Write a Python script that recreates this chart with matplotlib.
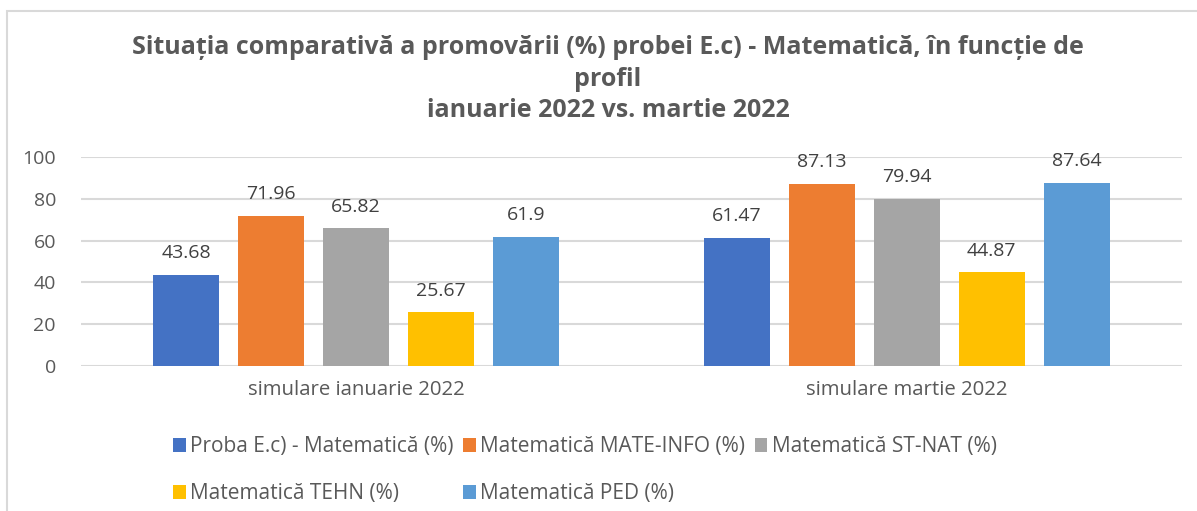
import matplotlib.pyplot as plt
import numpy as np
from matplotlib.patches import Rectangle

plt.rcParams['font.family'] = ['Open Sans', 'DejaVu Sans']

categorii = ['simulare ianuarie 2022', 'simulare martie 2022']
serii = ['Proba E.c) - Matematică (%)', 'Matematică MATE-INFO (%)', 'Matematică ST-NAT (%)',
         'Matematică TEHN (%)', 'Matematică PED (%)']
proba = [43.68, 61.47]
mate_info = [71.96, 87.13]
st_nat = [65.82, 79.94]
tehn = [25.67, 44.87]
ped = [61.9, 87.64]
culori = ['#4472C4', '#ED7D31', '#A5A5A5', '#FFC000', '#5B9BD5']

fig = plt.figure(figsize=(11.97, 5.11), dpi=100)
ax = fig.add_axes([81/1197, 1-366/511, 1101/1197, 209/511])

x = np.arange(len(categorii))
w = 66/550.5
pas = 85/550.5
handles = []
for i, (vals, c) in enumerate(zip([proba, mate_info, st_nat, tehn, ped], culori)):
    b = ax.bar(x + (i-2)*pas, vals, w, color=c, label=serii[i], zorder=3)
    handles.append(b)
    for xi, v in zip(x + (i-2)*pas, vals):
        ax.annotate(f'{v:g}', (xi, v), xytext=(0, 9), textcoords='offset points',
                    ha='center', va='bottom', fontsize=14, color='#404040')

ax.set_xlim(-0.5, 1.5)
ax.set_ylim(0, 100)
ax.set_yticks(range(0, 101, 20))
ax.set_xticks(x)
ax.set_xticklabels(categorii)
ax.tick_params(axis='both', length=0, labelsize=14, labelcolor='#595959')
ax.tick_params(axis='x', pad=10, labelsize=14.7)
ax.tick_params(axis='y', pad=18)
ax.grid(axis='y', color='#D9D9D9', linewidth=1.5, zorder=0)
for s in ax.spines.values():
    s.set_visible(False)

fig.text(0.508, 1-79/511, 'Situația comparativă a promovării (%) probei E.c) - Matematică, în funcție de\nprofil\nianuarie 2022 vs. martie 2022',
         ha='center', va='center', fontsize=18, fontweight='bold', color='#595959', linespacing=1.32)

ordine = [0, 3, 1, 4, 2]
leg = fig.legend([handles[k] for k in ordine], [serii[k] for k in ordine], ncol=3,
                 loc='upper left', bbox_to_anchor=(163/1197, 1-426/511), frameon=False,
                 fontsize=15, handlelength=0.6, handleheight=0.6, handletextpad=0.22,
                 columnspacing=0.45, labelspacing=1.25, labelcolor='#595959', borderpad=0)

fig.add_artist(Rectangle((7/1197, -0.1), 1.2, 1.1-11/511, transform=fig.transFigure,
                         fill=False, edgecolor='#D9D9D9', linewidth=1.5))

fig.savefig('out.png', dpi=100)
